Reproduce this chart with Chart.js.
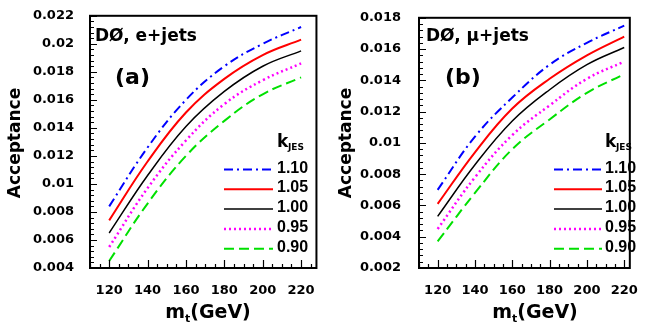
<!DOCTYPE html>
<html>
<head>
<meta charset="utf-8">
<script src="https://cdn.jsdelivr.net/npm/chart.js@4.4.1/dist/chart.umd.min.js"></script>
<style>
html, body { margin: 0; padding: 0; background: #fff; }
#wrap { position: relative; width: 645px; height: 326px; }
#chartA { position: absolute; left: 0; top: 0; }
#chartB { position: absolute; left: 322px; top: 0; }
</style>
</head>
<body>
<div id="wrap">
  <canvas id="chartA" width="322" height="326"></canvas>
  <canvas id="chartB" width="323" height="326"></canvas>
</div>
<script>
// top mass points (GeV)
const mass = [120, 140, 160, 180, 200, 220];
const kjes = ['1.10', '1.05', '1.00', '0.95', '0.90'];

// (a) e+jets acceptance for each kJES
const accE110 = [0.0084, 0.0126, 0.0160, 0.0184, 0.0200, 0.0212];
const accE105 = [0.0074, 0.0116, 0.0151, 0.0175, 0.0192, 0.0203];
const accE100 = [0.0065, 0.0106, 0.0141, 0.0166, 0.0184, 0.0195];
const accE095 = [0.0055, 0.0097, 0.0131, 0.0157, 0.0174, 0.0186];
const accE090 = [0.0045, 0.0086, 0.0120, 0.0145, 0.0164, 0.0176];

// (b) mu+jets acceptance for each kJES
const accMu110 = [0.0070, 0.0104, 0.0129, 0.0150, 0.0164, 0.0175];
const accMu105 = [0.0061, 0.0094, 0.0122, 0.0141, 0.0156, 0.0168];
const accMu100 = [0.0053, 0.0086, 0.0114, 0.0134, 0.0150, 0.0161];
const accMu095 = [0.0045, 0.0078, 0.0105, 0.0124, 0.0141, 0.0152];
const accMu090 = [0.0037, 0.0068, 0.0096, 0.0115, 0.0132, 0.0144];

const xTicks = [120, 140, 160, 180, 200, 220];
const yTicksE = [0.004, 0.006, 0.008, 0.01, 0.012, 0.014, 0.016, 0.018, 0.02, 0.022];
const yTicksMu = [0.002, 0.004, 0.006, 0.008, 0.01, 0.012, 0.014, 0.016, 0.018];

const colors = ['#0000ff', '#ff0000', '#000000', '#ff00ff', '#00e000'];
const dashes = [[9, 4, 2, 4], [], [], [2, 3], [10, 5]];
const widths = [2, 2, 1.5, 2.5, 2];

const FONT = 'DejaVu Sans';

function makeDatasets(series) {
  return series.map((arr, i) => ({
    label: kjes[i],
    data: mass.map((m, j) => ({ x: m, y: arr[j] })),
    borderColor: colors[i],
    borderDash: dashes[i],
    borderWidth: widths[i],
    pointRadius: 0,
    fill: false,
    tension: 0.4
  }));
}

// ROOT-like frame, inner ticks, titles and legend
const rootStyle = {
  id: 'rootStyle',
  afterDraw(chart, args, o) {
    const ctx = chart.ctx, a = chart.chartArea;
    const xs = chart.scales.x, ys = chart.scales.y;
    ctx.save();
    ctx.strokeStyle = '#000';
    ctx.lineWidth = 1.2;
    ctx.beginPath();
    for (let v = 110; v <= xs.max; v += 5) {
      const px = Math.round(xs.getPixelForValue(v)) + 0.5;
      const len = (v - 120) % 20 === 0 ? 8 : 4;
      ctx.moveTo(px, a.bottom);
      ctx.lineTo(px, a.bottom - len);
    }
    for (let i = 0; ; i++) {
      const v = ys.min + i * 0.0004;
      if (v > ys.max + 1e-9) break;
      const py = Math.round(ys.getPixelForValue(v)) + 0.5;
      const len = i % 5 === 0 ? 7 : 4;
      ctx.moveTo(a.left, py);
      ctx.lineTo(a.left + len, py);
    }
    ctx.stroke();
    ctx.lineWidth = 2;
    ctx.strokeRect(a.left, a.top, a.right - a.left, a.bottom - a.top);

    ctx.fillStyle = '#000';
    // y title
    ctx.save();
    ctx.translate(o.yTitleX, 143);
    ctx.rotate(-Math.PI / 2);
    ctx.font = 'bold 17px "' + FONT + '"';
    ctx.textAlign = 'center';
    ctx.textBaseline = 'middle';
    ctx.fillText('Acceptance', 0, 0);
    ctx.restore();

    // x title m_t(GeV)
    ctx.textBaseline = 'alphabetic';
    ctx.textAlign = 'left';
    const big = 'bold 19px "' + FONT + '"', small = 'bold 11px "' + FONT + '"';
    ctx.font = big;
    const wm = ctx.measureText('m').width, wg = ctx.measureText('(GeV)').width;
    ctx.font = small;
    const wt = ctx.measureText('t').width;
    let x0 = o.xTitleX - (wm + wt + wg) / 2;
    ctx.font = big; ctx.fillText('m', x0, 318);
    ctx.font = small; ctx.fillText('t', x0 + wm, 322);
    ctx.font = big; ctx.fillText('(GeV)', x0 + wm + wt, 318);

    // experiment label and panel tag
    ctx.font = 'bold 17px "' + FONT + '"';
    ctx.fillText(o.label, o.labelX, 41);
    ctx.font = 'bold 22px "' + FONT + '"';
    ctx.fillText(o.tag, o.tagX, 84);

    // legend
    ctx.font = 'bold 17px "' + FONT + '"';
    ctx.fillText('k', o.legTextX, 147);
    ctx.font = 'bold 9px "' + FONT + '"';
    ctx.fillText('JES', o.legTextX + 11, 150);
    ctx.font = 'bold 16px "Liberation Sans"';
    chart.data.datasets.forEach((ds, i) => {
      const y = 169.5 + i * 19.8;
      ctx.save();
      ctx.strokeStyle = ds.borderColor;
      ctx.lineWidth = ds.borderWidth;
      ctx.setLineDash(ds.borderDash);
      ctx.beginPath();
      ctx.moveTo(o.legX0, y);
      ctx.lineTo(o.legX1, y);
      ctx.stroke();
      ctx.restore();
      ctx.fillText(ds.label, o.legTextX, y + 3);
    });
    ctx.restore();
  }
};

function makeChart(id, series, yTicks, yMin, yMax, xMax, pad, yWidth, tickPad, style) {
  return new Chart(document.getElementById(id).getContext('2d'), {
    type: 'line',
    data: { datasets: makeDatasets(series) },
    plugins: [rootStyle],
    options: {
      responsive: false,
      animation: false,
      layout: { padding: pad },
      plugins: { legend: { display: false }, tooltip: { enabled: false }, rootStyle: style },
      scales: {
        x: {
          type: 'linear', min: 110, max: xMax,
          grid: { display: false }, border: { display: false },
          afterBuildTicks: s => { s.ticks = xTicks.map(v => ({ value: v })); },
          afterFit: s => { s.height = 58; },
          ticks: { autoSkip: false, maxRotation: 0, padding: 7, color: '#000',
                   font: { family: FONT, size: 13, weight: 'bold' } }
        },
        y: {
          type: 'linear', min: yMin, max: yMax,
          grid: { display: false }, border: { display: false },
          afterBuildTicks: s => { s.ticks = yTicks.map(v => ({ value: v })); },
          afterFit: s => { s.width = yWidth; },
          ticks: { autoSkip: false, padding: tickPad, color: '#000',
                   callback: v => String(+v.toFixed(3)),
                   font: { family: FONT, size: 13, weight: 'bold' } }
        }
      }
    }
  });
}

makeChart('chartA', [accE110, accE105, accE100, accE095, accE090], yTicksE, 0.004, 0.022, 228,
  { top: 13, right: 5, left: 0, bottom: 0 }, 90, 8,
  { yTitleX: 16, xTitleX: 208, label: 'DØ, e+jets', labelX: 95, tag: '(a)', tagX: 115,
    legX0: 224, legX1: 273, legTextX: 277 });

makeChart('chartB', [accMu110, accMu105, accMu100, accMu095, accMu090], yTicksMu, 0.002, 0.018, 223,
  { top: 12, right: 8, left: 0, bottom: 0 }, 97, 10,
  { yTitleX: 25, xTitleX: 213, label: 'DØ, μ+jets', labelX: 104, tag: '(b)', tagX: 123,
    legX0: 232, legX1: 280, legTextX: 283 });
</script>
</body>
</html>
